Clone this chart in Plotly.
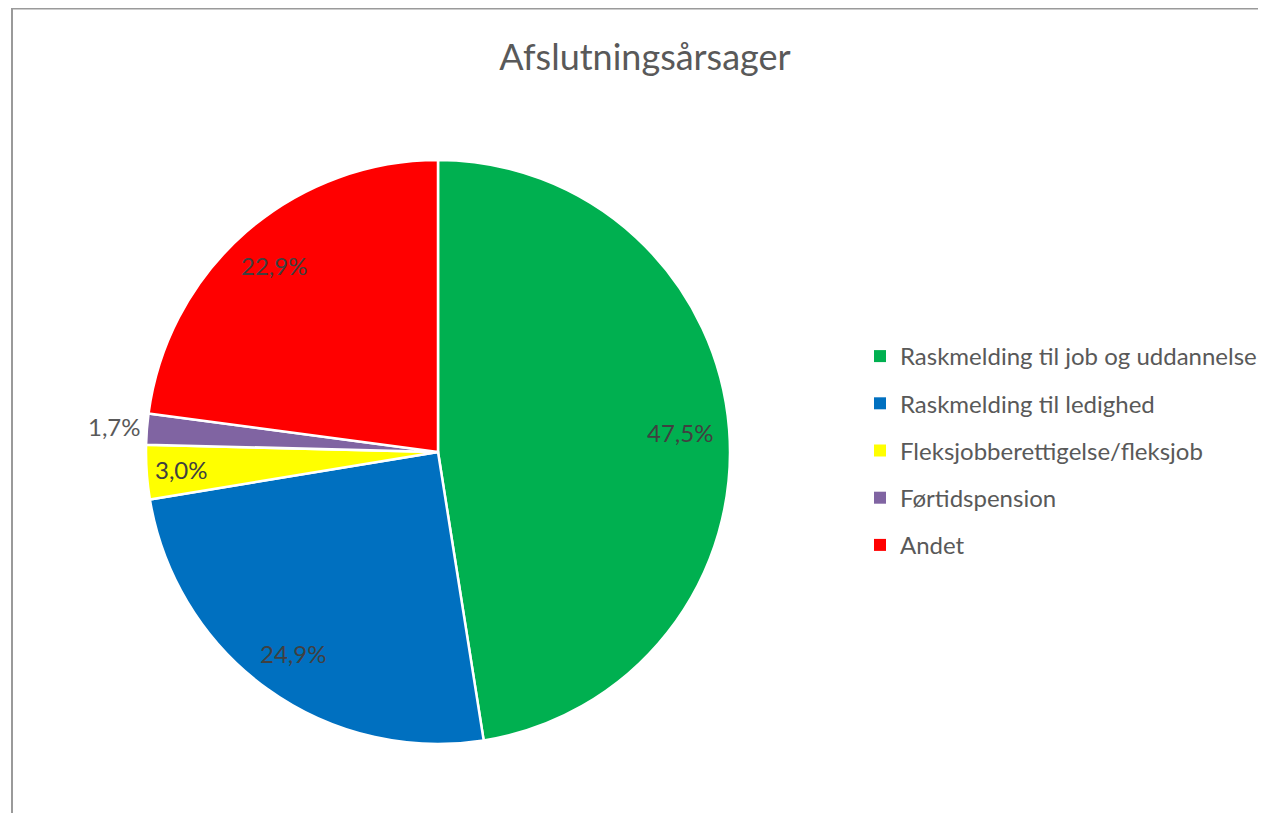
import math
import plotly.graph_objects as go

labels = ["Raskmelding til job og uddannelse", "Raskmelding til ledighed",
          "Fleksjobberettigelse/fleksjob", "Førtidspension", "Andet"]
values = [47.5, 24.9, 3.0, 1.7, 22.9]
text_labels = ["47,5%", "24,9%", "3,0%", "1,7%", "22,9%"]
colors = ["#00b050", "#0070c0", "#ffff00", "#8064a2", "#ff0000"]

# the page body has an 8px margin, so the figure is a bit smaller than the window
W, H = 1258, 805
font = "Lato, 'Open Sans', sans-serif"

# pie placement (pixels inside the figure)
cx, cy, r = 430, 444, 292
# how far out each label sits, as a fraction of the radius (Excel "best fit" look)
label_radius = [0.83, 0.85, 0.88, 1.11, 0.85]
label_colors = ["#404040", "#404040", "#404040", "#595959", "#404040"]

fig = go.Figure()

fig.add_trace(go.Pie(
    labels=labels,
    values=values,
    textinfo="none",
    sort=False,
    direction="clockwise",
    rotation=0,
    marker=dict(colors=colors, line=dict(color="white", width=2.5)),
    domain=dict(x=[(cx - r) / W, (cx + r) / W],
                y=[(H - cy - r) / H, (H - cy + r) / H]),
    showlegend=False,
    hoverinfo="label+percent",
))

# data labels at the middle angle of each slice
annotations = []
total = sum(values)
cum = 0
for v, t, f, c in zip(values, text_labels, label_radius, label_colors):
    theta = 2 * math.pi * (cum + v / 2) / total
    cum += v
    px = cx + f * r * math.sin(theta)
    py = cy - f * r * math.cos(theta)
    annotations.append(dict(x=px / W, y=1 - py / H, xref="paper", yref="paper",
                            xanchor="center", yanchor="middle",
                            text=t, showarrow=False,
                            font=dict(family=font, size=24, color=c)))

# legend entries as separate traces so the row spacing can be widened
for lab, col in zip(labels, colors):
    fig.add_trace(go.Scatter(
        x=[None], y=[None], mode="markers", name=lab, legendgroup=lab,
        marker=dict(symbol="square", size=9, color=col),
    ))

fig.update_layout(
    width=W, height=H,
    margin=dict(l=0, r=0, t=0, b=0),
    paper_bgcolor="white",
    plot_bgcolor="white",
    xaxis=dict(visible=False),
    yaxis=dict(visible=False),
    title=dict(text="Afslutningsårsager", x=637 / W, xanchor="center",
               y=1 - 49 / H, yanchor="middle",
               font=dict(family=font, size=36, color="#595959")),
    legend=dict(x=852 / W, y=1 - 326 / H, xanchor="left", yanchor="top",
                font=dict(family=font, size=24, color="#595959"),
                tracegroupgap=13, itemsizing="constant"),
    annotations=annotations,
    shapes=[dict(type="rect", xref="paper", yref="paper",
                 x0=4 / W, x1=1.05, y0=-0.05, y1=1 - 0.5 / H,
                 line=dict(color="#9a9a9a", width=2))],
)

fig.write_html("out.html")
